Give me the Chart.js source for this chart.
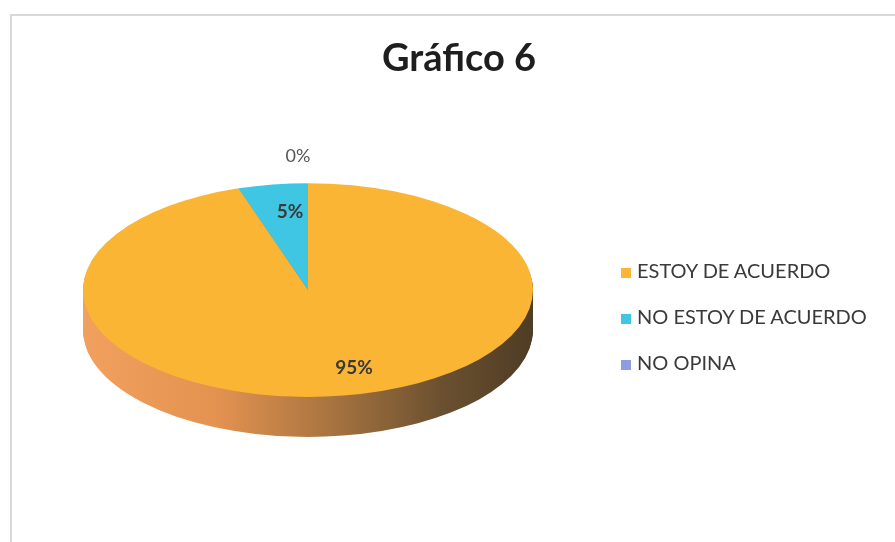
<!DOCTYPE html>
<html>
<head>
<meta charset="utf-8">
<script src="https://cdn.jsdelivr.net/npm/chart.js@4"></script>
<style>
  body { margin: 0; background: #fff; }
  #wrap { position: relative; width: 895px; height: 542px; overflow: hidden; }
  #frame { position: absolute; left: 10px; top: 14px; width: 900px; height: 600px;
           border-left: 2px solid #d8d8d8; border-top: 2px solid #d8d8d8; }
  #title { position: absolute; left: 0; width: 918px; top: 33px; text-align: center;
           font-family: Lato, "Open Sans", sans-serif; font-weight: bold; font-size: 38px; color: #1e1e1e; }
  #legend { position: absolute; left: 621px; top: 258px; font-family: Lato, sans-serif;
            font-size: 20px; color: #3a3a3a; }
  #legend div { height: 46px; white-space: nowrap; }
  #legend span.box { display: inline-block; width: 10px; height: 10px; margin-right: 6px; }
  canvas { position: absolute; left: 0; top: 0; }
</style>
</head>
<body>
<div id="wrap">
  <div id="frame"></div>
  <canvas id="pieChart" width="895" height="542"></canvas>
  <div id="title">Gráfico 6</div>
  <div id="legend"></div>
</div>
<script>
// data
const categories = ["ESTOY DE ACUERDO", "NO ESTOY DE ACUERDO", "NO OPINA"];
const percents = [95, 5, 0];
const sliceColors = ["#fbb534", "#3ec6e2", "#8e9ce2"];

const tilt = 0.475;   // vertical squish of the pie
const depth = 40;     // thickness of the pie side in px

// legend in html
let legendHTML = "";
categories.forEach((c, i) => {
  legendHTML += `<div><span class="box" style="background:${sliceColors[i]}"></span>${c}</div>`;
});
document.querySelector("#legend").innerHTML = legendHTML;

// makes the flat pie look like the 3d one
const tiltPlugin = {
  id: "tilt",
  beforeDatasetsDraw(chart) {
    const ctx = chart.ctx;
    const arcs = chart.getDatasetMeta(0).data;
    const cx = arcs[0].x, cy = arcs[0].y, r = arcs[0].outerRadius;
    // side of the pie, drawn as stacked copies of the slices
    const grad = ctx.createLinearGradient(cx - r, 0, cx + r, 0);
    grad.addColorStop(0, "#f2a05e");
    grad.addColorStop(0.3, "#e39250");
    grad.addColorStop(0.55, "#a87440");
    grad.addColorStop(0.8, "#6a5030");
    grad.addColorStop(1, "#4e3c24");
    for (let d = depth; d >= 1; d--) {
      ctx.save();
      ctx.translate(0, cy + d);
      ctx.scale(1, tilt);
      ctx.translate(0, -cy);
      arcs.forEach((arc) => {
        const old = arc.options.backgroundColor;
        arc.options.backgroundColor = grad;
        arc.draw(ctx);
        arc.options.backgroundColor = old;
      });
      ctx.restore();
    }
    ctx.save();
    ctx.translate(0, cy);
    ctx.scale(1, tilt);
    ctx.translate(0, -cy);
  },
  afterDatasetsDraw(chart) {
    const ctx = chart.ctx;
    ctx.restore();
    // percentage labels
    const arcs = chart.getDatasetMeta(0).data;
    arcs.forEach((arc, i) => {
      const mid = (arc.startAngle + arc.endAngle) / 2;
      const r = arc.outerRadius;
      let lr = 0.74;
      ctx.font = "bold 19px Lato, sans-serif";
      ctx.fillStyle = "#3a3a3a";
      if (percents[i] === 0) {
        lr = 1.25;
        ctx.font = "18px Lato, sans-serif";
        ctx.fillStyle = "#555";
      }
      let x = arc.x + Math.cos(mid) * r * lr;
      let y = arc.y + Math.sin(mid) * r * tilt * lr;
      if (i === 0) x += 20;
      if (i === 1) x += 8;
      if (percents[i] === 0) x -= 10;
      ctx.textAlign = "center";
      ctx.textBaseline = "middle";
      ctx.fillText(percents[i] + "%", x, y);
    });
  },
};

new Chart(document.getElementById("pieChart"), {
  type: "pie",
  data: {
    labels: categories,
    datasets: [{
      data: percents,
      backgroundColor: sliceColors,
      borderWidth: 0,
    }],
  },
  options: {
    responsive: false,
    animation: false,
    events: [],
    layout: { padding: { left: 83, right: 362, top: 65, bottom: 27 } },
    plugins: {
      legend: { display: false },
      title: { display: false },
      tooltip: { enabled: false },
    },
  },
  plugins: [tiltPlugin],
});
</script>
</body>
</html>
